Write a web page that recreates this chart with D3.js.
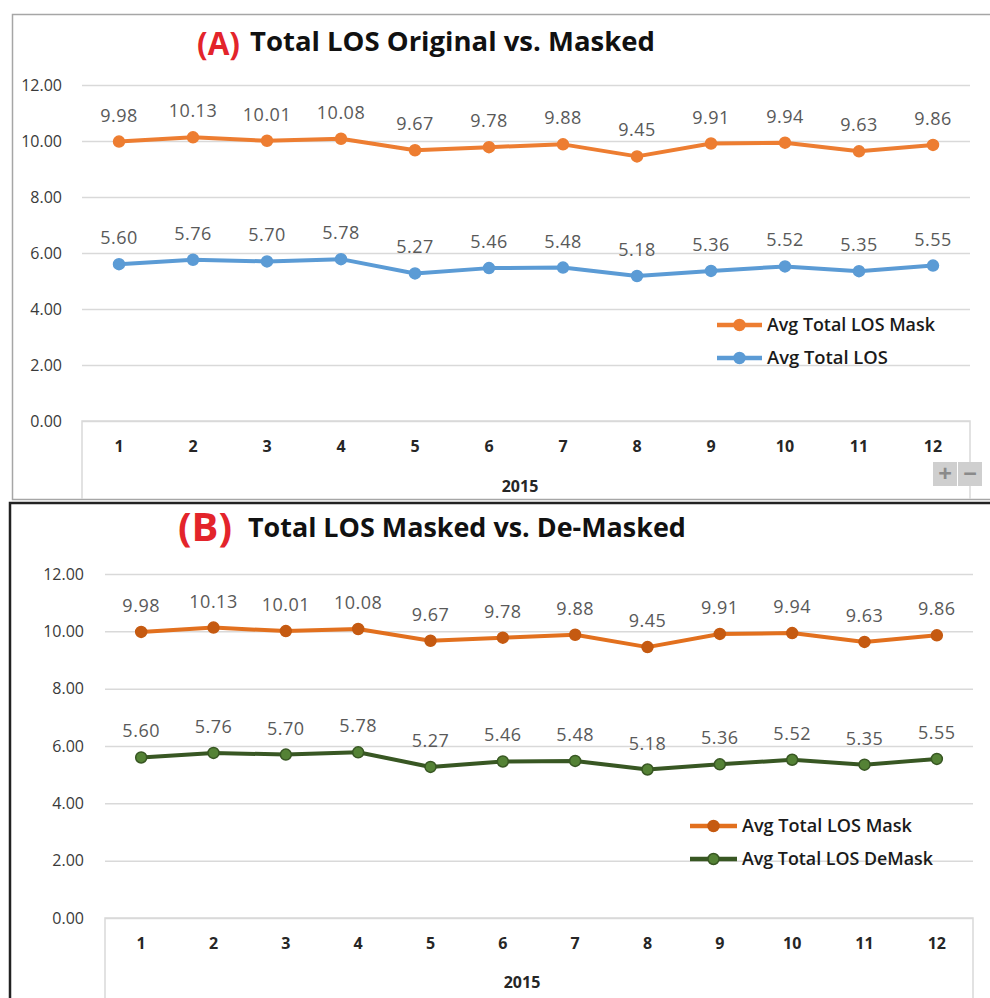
<!DOCTYPE html>
<html><head><meta charset="utf-8">
<script src="https://cdn.jsdelivr.net/npm/d3@7"></script>
<style>body{margin:0;background:#fff}svg{display:block}text{font-family:'Open Sans',sans-serif}</style>
</head><body><svg id="c" width="990" height="998"></svg>
<script>
const months = ["1","2","3","4","5","6","7","8","9","10","11","12"];
const avgLosMask = [9.98,10.13,10.01,10.08,9.67,9.78,9.88,9.45,9.91,9.94,9.63,9.86];
const avgLosOriginal = [5.60,5.76,5.70,5.78,5.27,5.46,5.48,5.18,5.36,5.52,5.35,5.55];
const avgLosDeMask = [5.60,5.76,5.70,5.78,5.27,5.46,5.48,5.18,5.36,5.52,5.35,5.55];
const yTicks = [0,2,4,6,8,10,12];
const xAxisTitle = "2015";
const seriesNamesA = ["Avg Total LOS Mask","Avg Total LOS"];
const seriesNamesB = ["Avg Total LOS Mask","Avg Total LOS DeMask"];

const svg = d3.select("#c");

function fitWidth(sel, w){
  const l = sel.node().getComputedTextLength();
  const fs = parseFloat(sel.attr("font-size"));
  sel.attr("font-size", fs*w/l);
}

const panels = [
  {letter:"(A)", title:"Total LOS Original vs. Masked",
   letterX:197, letterW:43, titleX:250, titleW:405, titleY:51, letterY:55,
   left:82, right:970, yTop:85, yBot:421, boxBot:499, yLabRight:62,
   xLabY:452, yearY:492, yearX:520,
   series:[
     {name:seriesNamesA[0], values:avgLosMask, line:"#ED7D31", fill:"#ED7D31", stroke:"#ED7D31"},
     {name:seriesNamesA[1], values:avgLosOriginal, line:"#5B9BD5", fill:"#5B9BD5", stroke:"#5B9BD5"}
   ],
   legX:717, legY:325, legW:45, legGap:33, legTextW:[168,121]},
  {letter:"(B)", title:"Total LOS Masked vs. De-Masked",
   letterX:178, letterW:54, titleX:248, titleW:438, titleY:537, letterY:541,
   left:105, right:973, yTop:574, yBot:918, boxBot:1000, yLabRight:84,
   xLabY:949, yearY:988, yearX:522,
   series:[
     {name:seriesNamesB[0], values:avgLosMask, line:"#E2701E", fill:"#C55A11", stroke:"#C55A11"},
     {name:seriesNamesB[1], values:avgLosDeMask, line:"#385723", fill:"#548235", stroke:"#385723"}
   ],
   legX:690, legY:826, legW:47, legGap:33, legTextW:[170,191]}
];

// panel borders
svg.append("path").attr("d","M990,14.5 H12.5 V499.5 H990").attr("fill","none").attr("stroke","#a6a6a6").attr("stroke-width",1.5);
svg.append("path").attr("d","M990,503 H10 V998").attr("fill","none").attr("stroke","#222").attr("stroke-width",2.5);

panels.forEach(p=>{
  const g = svg.append("g");
  const x = d3.scaleBand().domain(months).range([p.left,p.right]);
  const y = d3.scaleLinear().domain([0,12]).range([p.yBot,p.yTop]);

  // titles
  const lt = g.append("text").attr("x",p.letterX).attr("y",p.letterY).attr("font-size",32)
    .attr("font-weight","bold").attr("fill","#E3242B").text(p.letter);
  fitWidth(lt,p.letterW);
  const tt = g.append("text").attr("x",p.titleX).attr("y",p.titleY).attr("font-size",24)
    .attr("font-weight","bold").attr("fill","#111").text(p.title);
  fitWidth(tt,p.titleW);

  // gridlines + y labels
  const yAxis = d3.axisLeft(y).tickValues(yTicks).tickFormat(d3.format(".2f")).tickSize(-(p.right-p.left)).tickPadding(p.left-p.yLabRight);
  const ya = g.append("g").attr("transform",`translate(${p.left},0)`).call(yAxis);
  ya.select(".domain").remove();
  ya.selectAll(".tick line").attr("stroke","#d9d9d9").attr("stroke-width",1.5);
  ya.selectAll(".tick text").attr("font-size",16).attr("fill","#3a3a3a").attr("dy","0.32em")
    .attr("font-family","'Open Sans',sans-serif");

  // category box
  g.append("path").attr("d",`M${p.left},${p.boxBot} V${p.yBot} H${p.right} V${p.boxBot}`)
    .attr("fill","none").attr("stroke","#d9d9d9").attr("stroke-width",1.5);

  // x labels
  const xAxis = d3.axisBottom(x).tickSize(0).tickPadding(0);
  const xa = g.append("g").attr("transform",`translate(0,${p.xLabY})`).call(xAxis);
  xa.select(".domain").remove();
  xa.selectAll(".tick text").attr("font-size",16).attr("font-weight","bold").attr("fill","#262626")
    .attr("dy",0).attr("font-family","'Open Sans',sans-serif");
  g.append("text").attr("x",p.yearX).attr("y",p.yearY).attr("text-anchor","middle")
    .attr("font-size",16).attr("font-weight","bold").attr("fill","#262626").text(xAxisTitle);

  // series
  const line = d3.line().x((d,i)=>x(months[i])+x.bandwidth()/2).y(d=>y(d));
  p.series.forEach(s=>{
    g.append("path").datum(s.values).attr("d",line).attr("fill","none").attr("stroke",s.line)
      .attr("stroke-width",4).attr("stroke-linejoin","round");
    g.selectAll(null).data(s.values).enter().append("circle")
      .attr("cx",(d,i)=>x(months[i])+x.bandwidth()/2).attr("cy",d=>y(d)).attr("r",5.5)
      .attr("fill",s.fill).attr("stroke",s.stroke).attr("stroke-width",1.5);
    g.selectAll(null).data(s.values).enter().append("text")
      .attr("x",(d,i)=>x(months[i])+x.bandwidth()/2).attr("y",d=>y(d)-20)
      .attr("text-anchor","middle").attr("font-size",18).attr("letter-spacing","0.5px")
      .attr("fill","#595959").text(d=>d.toFixed(2));
  });

  // legend
  p.series.forEach((s,i)=>{
    const ly = p.legY + i*p.legGap;
    g.append("line").attr("x1",p.legX).attr("x2",p.legX+p.legW).attr("y1",ly).attr("y2",ly)
      .attr("stroke",s.line).attr("stroke-width",4.5);
    g.append("circle").attr("cx",p.legX+p.legW/2).attr("cy",ly).attr("r",5.5)
      .attr("fill",s.fill).attr("stroke",s.stroke).attr("stroke-width",1.5);
    const t = g.append("text").attr("x",p.legX+p.legW+5).attr("y",ly+6).attr("font-size",15)
      .attr("font-weight","600").attr("fill","#1a1a1a").text(s.name);
    fitWidth(t,p.legTextW[i]);
  });
});

// zoom buttons (panel A)
const btn = svg.append("g");
[{x:933,t:"+"},{x:958,t:"\u2212"}].forEach(b=>{
  btn.append("rect").attr("x",b.x).attr("y",462).attr("width",24).attr("height",24).attr("fill","#cfcfcf");
  btn.append("text").attr("x",b.x+12).attr("y",482).attr("text-anchor","middle").attr("font-size",24)
    .attr("font-weight","bold").attr("fill","#8a8a8a").text(b.t);
});
</script></body></html>
